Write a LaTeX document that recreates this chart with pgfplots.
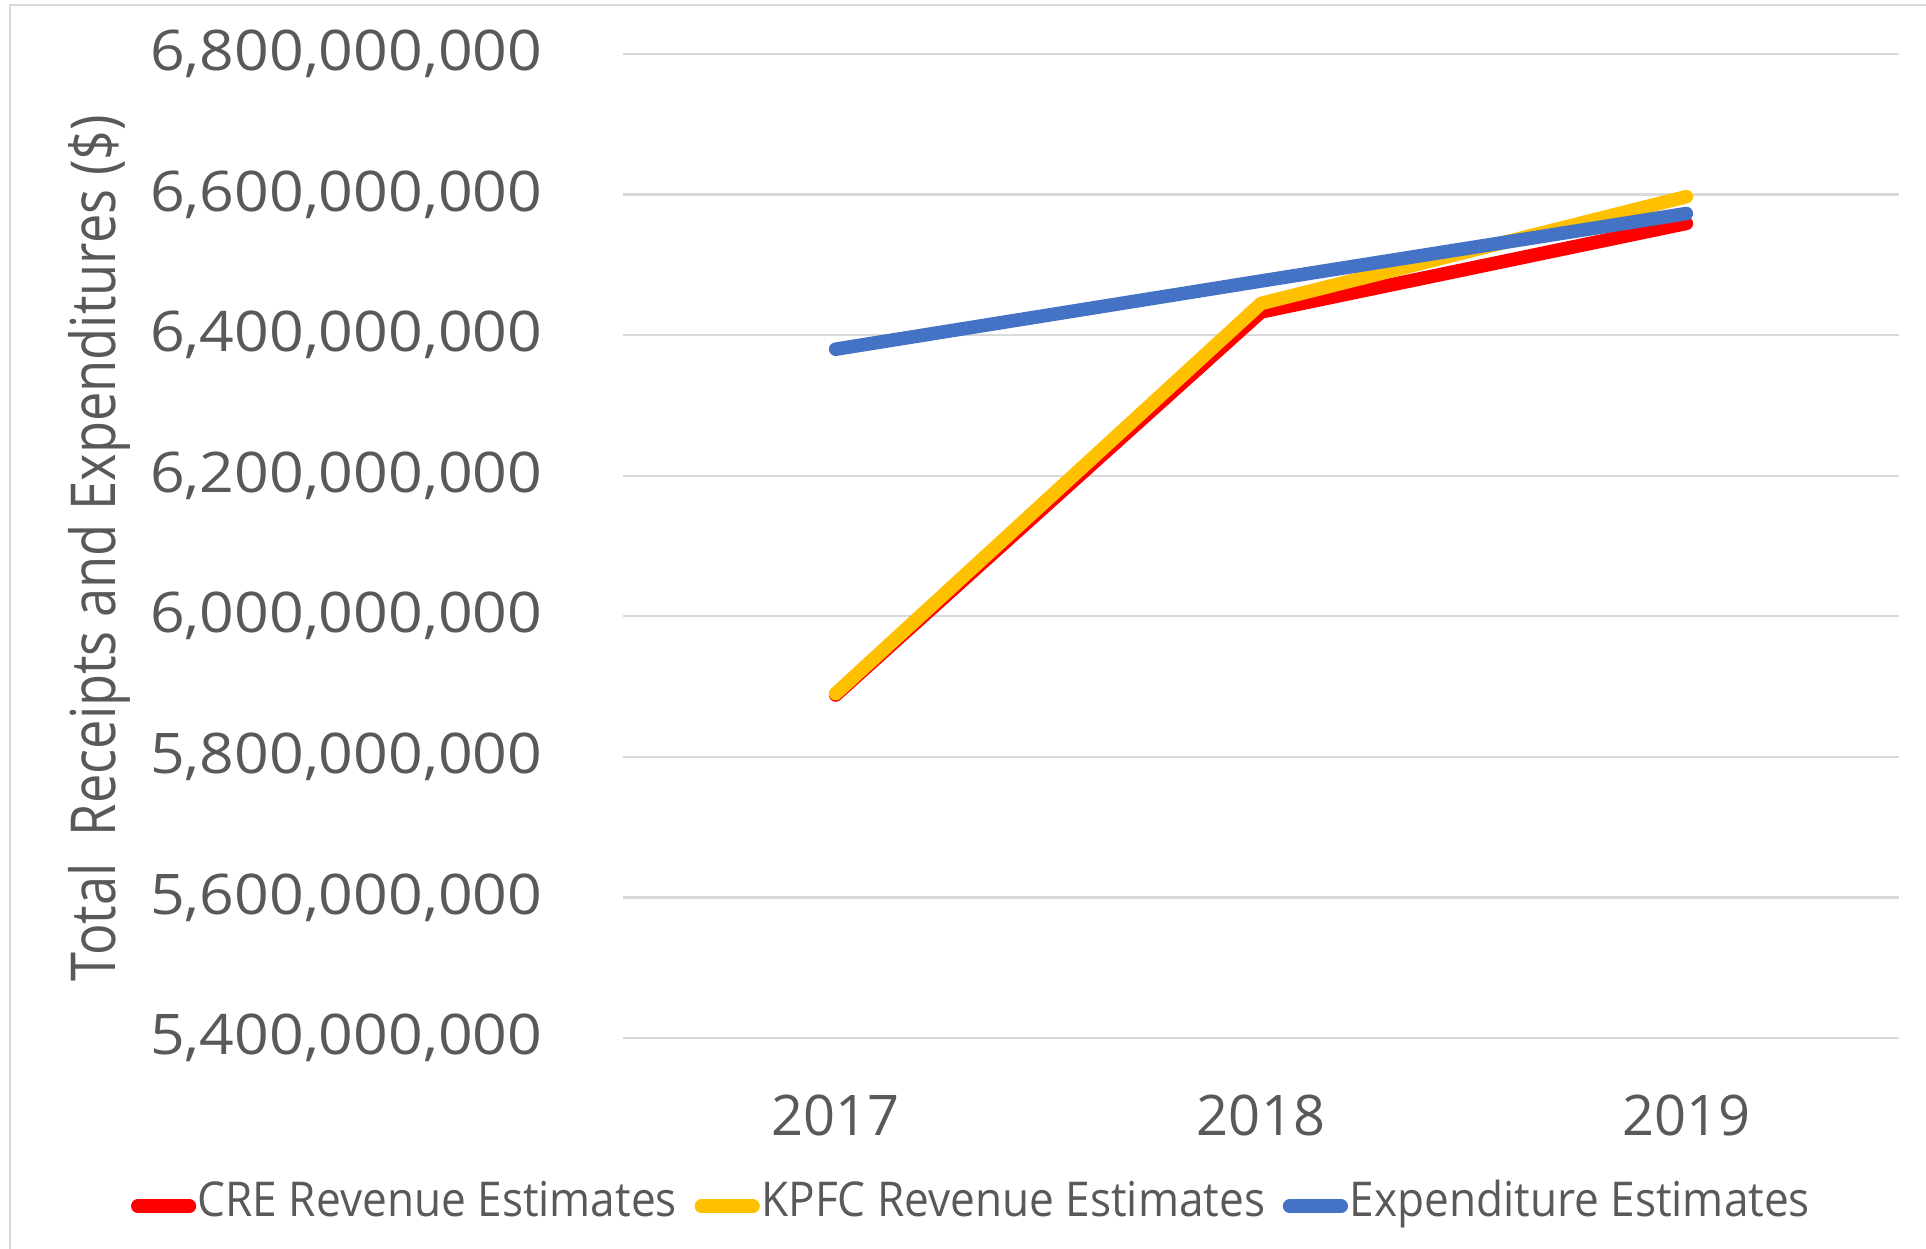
\documentclass[border=0pt]{standalone}
\usepackage{graphicx}
\usepackage{fontspec}
\setmainfont{Open Sans}
\usepackage{pgfplots}
\pgfplotsset{compat=1.18}
\definecolor{creRed}{HTML}{FF0000}
\definecolor{kpfcYel}{HTML}{FFC000}
\definecolor{expBlue}{HTML}{4472C4}
\definecolor{txtGray}{HTML}{595959}
\definecolor{gridGray}{HTML}{D9D9D9}
\newcommand\yl[1]{\scalebox{1.085}[1]{#1}}
\begin{document}
\begin{tikzpicture}
\useasboundingbox (0,0) rectangle (481.5pt,-312.25pt);
\draw[gridGray, line width=0.6pt] (2.5pt,-312.25pt) -- (2.5pt,-1.25pt) -- (481.5pt,-1.25pt);
\begin{axis}[
  at={(155.75pt,-259.5pt)}, anchor=south west,
  width=319pt, height=246pt, scale only axis,
  xmin=2016.5, xmax=2019.5,
  ymin=5.4e9, ymax=6.8e9,
  scaled y ticks=false, scaled x ticks=false,
  xtick={2017,2018,2019},
  xticklabels={2017,2018,2019},
  ytick={5.4e9,5.6e9,5.8e9,6.0e9,6.2e9,6.4e9,6.6e9,6.8e9},
  yticklabels={{\yl{5,400,000,000}},{\yl{5,600,000,000}},{\yl{5,800,000,000}},{\yl{6,000,000,000}},{\yl{6,200,000,000}},{\yl{6,400,000,000}},{\yl{6,600,000,000}},{\yl{6,800,000,000}}},
  axis line style={draw=none},
  major tick length=0pt,
  ymajorgrids, grid style={gridGray, line width=0.6pt},
  xmajorgrids=false,
  yticklabel style={font=\fontsize{14}{16}\selectfont, text=txtGray, anchor=east, inner sep=0pt, xshift=-20pt},
  xticklabel style={font=\fontsize{14}{16}\selectfont, text=txtGray, anchor=north, inner sep=0pt, yshift=-14pt},
  ylabel={\scalebox{0.845}[1]{Total\ \ Receipts and Expenditures (\$)}},
  ylabel style={font=\fontsize{15.5}{18}\selectfont, text=txtGray, at={(axis description cs:-0.41,0.498)}, anchor=center, rotate=0},
  clip=false,
  legend columns=3,
  legend style={draw=none, fill=none, at={(axis description cs:0.273,-0.171)}, anchor=center,
    font=\fontsize{12}{14}\selectfont, text=txtGray, inner sep=0pt,
    nodes={inner sep=0.4pt, text height=0.75em, text depth=0.25em},
    /tikz/every even column/.append style={column sep=4pt}},
  legend cell align=left,
  legend image code/.code={\draw[#1, line width=3.4pt, line cap=round] (1.7pt,0pt) -- (14.6pt,0pt);},
]
\addplot[creRed, line width=3.4pt, line cap=round, line join=round] coordinates {(2017,5.888e9) (2018,6.433e9) (2019,6.559e9)};
\addlegendentry{\scalebox{0.92}[1]{CRE Revenue Estimates}}
\addplot[kpfcYel, line width=3.4pt, line cap=round, line join=round] coordinates {(2017,5.890e9) (2018,6.445e9) (2019,6.597e9)};
\addlegendentry{\scalebox{0.92}[1]{KPFC Revenue Estimates}}
\addplot[expBlue, line width=3.4pt, line cap=round, line join=round] coordinates {(2017,6.380e9) (2018,6.477e9) (2019,6.573e9)};
\addlegendentry{\scalebox{0.92}[1]{Expenditure Estimates}}
\end{axis}
\end{tikzpicture}
\end{document}
